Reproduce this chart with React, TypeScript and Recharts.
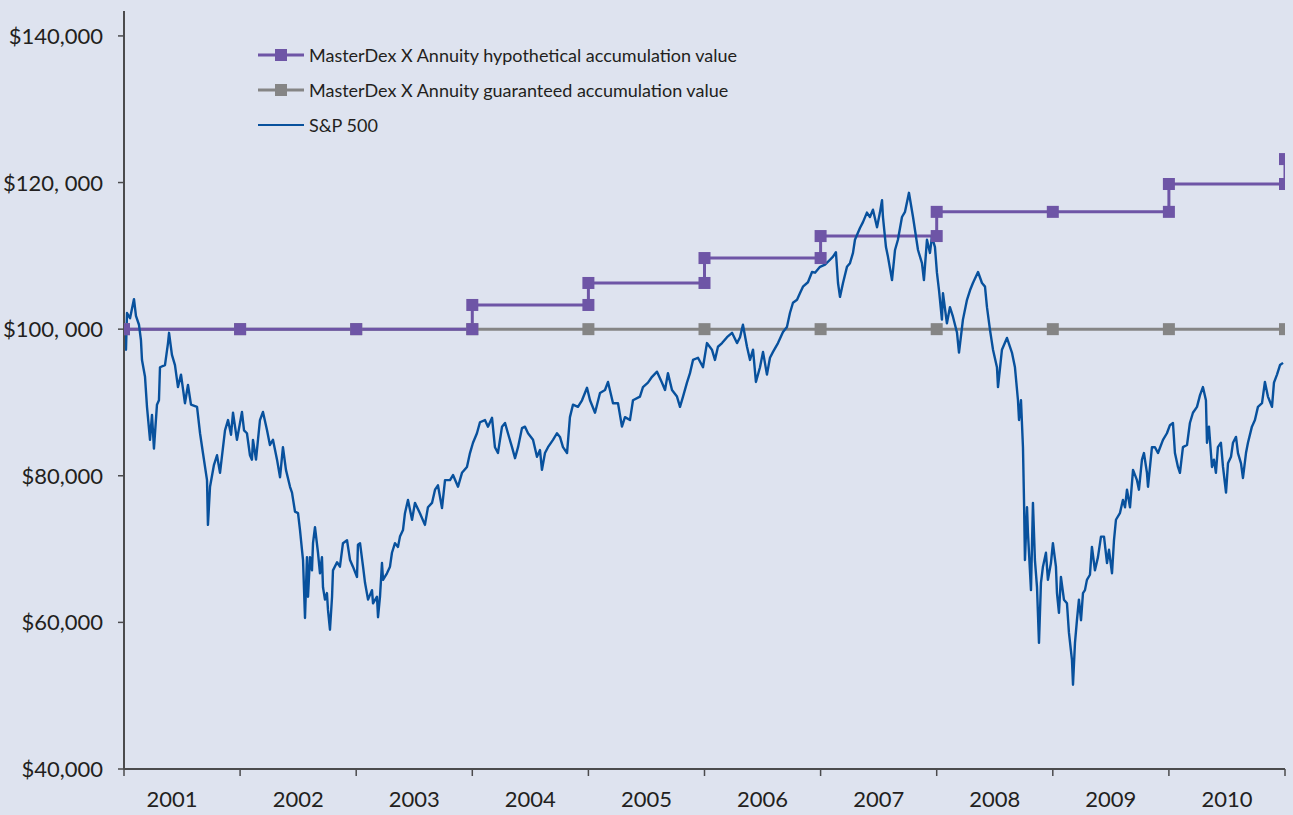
import React from "react";
import { LineChart, Line, XAxis, YAxis } from "recharts";

// year boundaries on the x axis, labels sit between them
const years = [2001, 2002, 2003, 2004, 2005, 2006, 2007, 2008, 2009, 2010, 2011];
const yearLabels = ["2001", "2002", "2003", "2004", "2005", "2006", "2007", "2008", "2009", "2010"];

const yTicks = [40000, 60000, 80000, 100000, 120000, 140000];
const yTickLabels = ["$40,000", "$60,000", "$80,000", "$100, 000", "$120, 000", "$140,000"];

const seriesNames = [
  "MasterDex X Annuity hypothetical accumulation value",
  "MasterDex X Annuity guaranteed accumulation value",
  "S&P 500",
];

// guaranteed value at each anniversary ($K)
const guaranteedValues = [100, 100, 100, 100, 100, 100, 100, 100, 100, 100, 100];

// hypothetical value, [year, $K] – two points where the value steps up
const hypotheticalSteps: [number, number][] = [
  [2001, 100], [2002, 100], [2003, 100], [2004, 100], [2004, 103.3],
  [2005, 103.3], [2005, 106.3], [2006, 106.3], [2006, 109.7],
  [2007, 109.7], [2007, 112.7], [2008, 112.7], [2008, 116.0],
  [2009, 116.0], [2010, 116.0], [2010, 119.8], [2011, 119.8], [2011, 123.2],
];

// S&P 500 growth of $100K, [year, $K]
const sp500Points: [number, number][] = [
  [2001.0, 100.0], [2001.017, 97.2], [2001.026, 102.2], [2001.052, 101.5], [2001.086, 104.1],
  [2001.103, 101.8], [2001.129, 100.6], [2001.146, 98.5], [2001.155, 95.8], [2001.181, 93.5],
  [2001.198, 89.4], [2001.224, 84.9], [2001.241, 88.3], [2001.258, 83.7], [2001.284, 89.7],
  [2001.301, 90.3], [2001.31, 94.8], [2001.353, 95.1], [2001.379, 98.1], [2001.388, 99.5],
  [2001.413, 96.5], [2001.439, 95.1], [2001.465, 92.1], [2001.491, 93.8], [2001.525, 89.9],
  [2001.551, 92.4], [2001.577, 89.7], [2001.629, 89.4], [2001.655, 85.8], [2001.68, 83.1],
  [2001.715, 79.4], [2001.723, 73.3], [2001.741, 78.5], [2001.775, 81.5], [2001.801, 82.8],
  [2001.827, 80.4], [2001.87, 86.2], [2001.896, 87.6], [2001.922, 85.6], [2001.939, 88.6],
  [2001.973, 84.9], [2002.016, 88.7], [2002.034, 86.2], [2002.059, 85.8], [2002.085, 82.8],
  [2002.102, 82.2], [2002.111, 84.9], [2002.137, 82.2], [2002.171, 87.6], [2002.197, 88.7],
  [2002.232, 86.2], [2002.257, 84.2], [2002.283, 84.9], [2002.318, 82.2], [2002.344, 79.8],
  [2002.369, 83.9], [2002.395, 80.8], [2002.43, 78.5], [2002.447, 77.7], [2002.473, 75.1],
  [2002.499, 74.9], [2002.516, 72.6], [2002.533, 69.9], [2002.542, 68.5], [2002.559, 60.6],
  [2002.576, 68.9], [2002.585, 63.5], [2002.602, 68.9], [2002.619, 67.1], [2002.628, 70.8],
  [2002.645, 73.0], [2002.671, 69.5], [2002.688, 66.7], [2002.705, 68.9], [2002.714, 64.8],
  [2002.731, 63.1], [2002.748, 64.0], [2002.757, 61.7], [2002.774, 59.0], [2002.792, 63.5],
  [2002.8, 67.1], [2002.835, 68.2], [2002.86, 67.6], [2002.886, 70.8], [2002.921, 71.2],
  [2002.947, 68.5], [2002.972, 67.6], [2003.007, 66.2], [2003.015, 70.6], [2003.033, 70.8],
  [2003.059, 67.6], [2003.076, 65.4], [2003.102, 63.1], [2003.136, 64.4], [2003.145, 62.6],
  [2003.179, 63.5], [2003.188, 60.7], [2003.205, 63.5], [2003.222, 68.1], [2003.231, 65.8],
  [2003.265, 66.7], [2003.291, 67.6], [2003.308, 69.5], [2003.334, 70.8], [2003.36, 70.3],
  [2003.377, 71.7], [2003.403, 72.6], [2003.42, 74.9], [2003.446, 76.7], [2003.481, 74.0],
  [2003.506, 76.3], [2003.549, 74.9], [2003.592, 73.3], [2003.618, 75.7], [2003.653, 76.3],
  [2003.679, 78.1], [2003.704, 78.7], [2003.739, 75.6], [2003.765, 79.4], [2003.808, 79.4],
  [2003.834, 80.1], [2003.877, 78.5], [2003.911, 80.4], [2003.954, 81.2], [2003.98, 83.1],
  [2004.006, 84.5], [2004.04, 85.8], [2004.066, 87.3], [2004.109, 87.6], [2004.135, 86.7],
  [2004.17, 87.9], [2004.195, 83.9], [2004.221, 83.1], [2004.256, 86.7], [2004.282, 87.2],
  [2004.307, 85.8], [2004.342, 83.9], [2004.368, 82.4], [2004.394, 83.9], [2004.428, 86.5],
  [2004.454, 86.7], [2004.48, 85.8], [2004.523, 84.9], [2004.557, 82.6], [2004.583, 83.5],
  [2004.6, 80.8], [2004.626, 83.1], [2004.652, 83.9], [2004.695, 84.9], [2004.729, 85.8],
  [2004.755, 85.3], [2004.781, 83.9], [2004.816, 83.1], [2004.841, 88.0], [2004.867, 89.7],
  [2004.91, 89.4], [2004.945, 90.3], [2004.988, 92.0], [2005.014, 90.3], [2005.057, 88.6],
  [2005.1, 91.3], [2005.143, 91.7], [2005.169, 92.8], [2005.212, 89.9], [2005.255, 89.9],
  [2005.289, 86.7], [2005.315, 88.0], [2005.358, 87.6], [2005.384, 90.3], [2005.444, 90.8],
  [2005.47, 92.1], [2005.513, 92.7], [2005.548, 93.5], [2005.591, 94.2], [2005.634, 92.7],
  [2005.66, 91.7], [2005.685, 94.0], [2005.72, 91.7], [2005.763, 90.8], [2005.789, 89.4],
  [2005.815, 90.8], [2005.849, 92.7], [2005.875, 94.0], [2005.901, 95.8], [2005.944, 96.1],
  [2005.987, 94.8], [2006.021, 98.1], [2006.064, 97.2], [2006.09, 95.8], [2006.116, 97.6],
  [2006.151, 98.1], [2006.194, 98.9], [2006.237, 99.5], [2006.28, 98.1], [2006.306, 98.9],
  [2006.331, 100.6], [2006.366, 97.6], [2006.392, 95.8], [2006.418, 97.2], [2006.443, 92.8],
  [2006.478, 94.8], [2006.504, 96.9], [2006.538, 93.8], [2006.564, 96.1], [2006.59, 96.9],
  [2006.633, 98.1], [2006.676, 99.6], [2006.71, 100.3], [2006.736, 102.2], [2006.762, 103.6],
  [2006.797, 104.0], [2006.822, 104.9], [2006.848, 105.8], [2006.891, 106.4], [2006.926, 107.8],
  [2006.952, 107.7], [2006.995, 108.5], [2007.038, 108.8], [2007.064, 109.2], [2007.107, 109.9],
  [2007.132, 110.5], [2007.15, 106.3], [2007.167, 104.4], [2007.193, 106.3], [2007.227, 108.5],
  [2007.253, 109.0], [2007.279, 110.4], [2007.296, 112.2], [2007.339, 113.8], [2007.365, 114.6],
  [2007.399, 115.9], [2007.425, 115.3], [2007.451, 116.3], [2007.486, 113.9], [2007.511, 115.9],
  [2007.529, 117.6], [2007.537, 115.3], [2007.563, 111.2], [2007.58, 109.9], [2007.615, 106.7],
  [2007.641, 110.8], [2007.666, 112.2], [2007.701, 115.3], [2007.727, 116.0], [2007.761, 118.6],
  [2007.796, 115.3], [2007.839, 110.8], [2007.873, 109.0], [2007.89, 106.7], [2007.916, 112.2],
  [2007.942, 110.4], [2007.959, 112.6], [2007.985, 111.2], [2008.002, 107.7], [2008.02, 105.3],
  [2008.045, 101.3], [2008.054, 104.9], [2008.088, 100.8], [2008.114, 103.0], [2008.14, 101.7],
  [2008.175, 99.5], [2008.192, 96.8], [2008.226, 101.3], [2008.261, 104.0], [2008.287, 105.3],
  [2008.312, 106.3], [2008.356, 107.8], [2008.39, 106.3], [2008.416, 105.8], [2008.433, 103.0],
  [2008.459, 99.9], [2008.485, 97.2], [2008.519, 94.8], [2008.528, 92.1], [2008.562, 97.2],
  [2008.605, 98.8], [2008.648, 96.8], [2008.674, 94.8], [2008.7, 90.3], [2008.709, 87.6],
  [2008.726, 90.3], [2008.743, 83.9], [2008.752, 76.7], [2008.76, 68.5], [2008.778, 75.7],
  [2008.786, 72.2], [2008.812, 64.4], [2008.829, 76.3], [2008.846, 68.5], [2008.864, 64.8],
  [2008.881, 57.2], [2008.898, 65.4], [2008.915, 67.6], [2008.941, 69.5], [2008.958, 65.8],
  [2008.984, 68.1], [2009.001, 70.8], [2009.027, 67.6], [2009.036, 64.0], [2009.053, 61.3],
  [2009.07, 66.2], [2009.096, 63.1], [2009.122, 62.6], [2009.139, 58.6], [2009.165, 54.9],
  [2009.174, 51.5], [2009.191, 57.2], [2009.208, 60.3], [2009.225, 63.1], [2009.243, 60.3],
  [2009.26, 64.0], [2009.277, 64.4], [2009.294, 65.8], [2009.32, 66.5], [2009.337, 70.3],
  [2009.363, 67.1], [2009.389, 68.9], [2009.415, 71.7], [2009.441, 71.7], [2009.467, 68.1],
  [2009.484, 69.9], [2009.51, 66.7], [2009.527, 71.2], [2009.544, 74.0], [2009.578, 74.9],
  [2009.604, 76.7], [2009.622, 75.7], [2009.639, 78.1], [2009.665, 75.7], [2009.691, 80.8],
  [2009.725, 79.4], [2009.742, 78.1], [2009.768, 82.2], [2009.785, 83.1], [2009.811, 80.4],
  [2009.82, 78.5], [2009.854, 83.9], [2009.88, 83.9], [2009.906, 83.1], [2009.949, 84.9],
  [2009.983, 85.8], [2010.009, 86.9], [2010.035, 87.2], [2010.052, 83.1], [2010.078, 81.2],
  [2010.095, 80.4], [2010.121, 83.9], [2010.156, 84.2], [2010.181, 87.2], [2010.207, 88.6],
  [2010.242, 89.4], [2010.268, 91.0], [2010.293, 92.1], [2010.319, 90.3], [2010.328, 84.5],
  [2010.345, 86.7], [2010.371, 81.2], [2010.388, 82.2], [2010.405, 80.4], [2010.422, 83.9],
  [2010.448, 84.5], [2010.466, 81.2], [2010.492, 77.7], [2010.509, 81.7], [2010.535, 82.6],
  [2010.552, 84.5], [2010.578, 85.3], [2010.595, 83.1], [2010.621, 81.7], [2010.638, 79.7],
  [2010.664, 83.1], [2010.681, 84.5], [2010.715, 86.7], [2010.741, 87.6], [2010.767, 89.4],
  [2010.802, 89.9], [2010.827, 92.8], [2010.853, 90.8], [2010.888, 89.4], [2010.905, 92.7],
  [2010.931, 93.8], [2010.957, 95.1], [2010.983, 95.4],
];

const COLORS = {
  bg: "#dee3ef",
  hypothetical: "#6e55a6",
  guaranteed: "#858585",
  sp500: "#08519d",
  axis: "#4b4b4d",
  text: "#231f20",
};
const FONT = "Lato, 'Open Sans', sans-serif";

const W = 1293;
const H = 815;
const PLOT_LEFT = 124;
const PLOT_RIGHT = 1285;
const PLOT_TOP = 11;
const PLOT_BOTTOM = 769;
const YEAR_PX = (PLOT_RIGHT - PLOT_LEFT) / (years.length - 1);

const guaranteedData = years.map((year, i) => ({ year, value: guaranteedValues[i] * 1000 }));
const hypotheticalData = hypotheticalSteps.map(([year, v]) => ({ year, value: v * 1000 }));
const sp500Data = sp500Points.map(([year, v]) => ({ year, value: v * 1000 }));

const squareDot = (color: string) => (props: any) => {
  const { cx, cy, index } = props;
  return <rect key={`sq-${index}`} x={cx - 6} y={cy - 6} width={12} height={12} fill={color} />;
};

const XTick = (props: any) => {
  const { x, y, payload } = props;
  const i = years.indexOf(payload.value);
  if (i < 0 || i >= yearLabels.length) return <g />;
  // the first label sits a bit left of the middle of its year
  const shift = i === 0 ? -10 : 0;
  return (
    <text x={x + YEAR_PX / 2 + shift} y={y} dy={29} textAnchor="middle" fill={COLORS.text}
      fontFamily={FONT} fontSize={22}>
      {yearLabels[i]}
    </text>
  );
};

const YTick = (props: any) => {
  const { x, y, payload } = props;
  const i = yTicks.indexOf(payload.value);
  return (
    <text x={x} y={y} dy={8} textAnchor="end" fill={COLORS.text} fontFamily={FONT} fontSize={22}>
      {yTickLabels[i]}
    </text>
  );
};

const legendColors = [COLORS.hypothetical, COLORS.guaranteed, COLORS.sp500];

function ChartLegend() {
  return (
    <div style={{ position: "absolute", left: 258, top: 37, fontFamily: FONT, fontSize: 18, color: COLORS.text }}>
      {seriesNames.map((name, i) => (
        <div key={name} style={{ display: "flex", alignItems: "center", height: 35 }}>
          <svg width={46} height={14} style={{ display: "block" }}>
            <line x1={0} x2={46} y1={7} y2={7} stroke={legendColors[i]} strokeWidth={i === 2 ? 2 : 3} />
            {i < 2 && <rect x={17} y={1} width={12} height={12} fill={legendColors[i]} />}
          </svg>
          <span style={{ marginLeft: 5, whiteSpace: "nowrap" }}>{name}</span>
        </div>
      ))}
    </div>
  );
}

export default function App() {
  return (
    <div style={{ position: "absolute", left: 0, top: 0, width: W, height: H, background: COLORS.bg }}>
      <LineChart width={W} height={H} margin={{ top: PLOT_TOP, right: W - PLOT_RIGHT, bottom: 0, left: 0 }}>
        <XAxis
          dataKey="year"
          type="number"
          domain={[2001, 2011]}
          ticks={years}
          allowDataOverflow
          stroke={COLORS.axis}
          strokeWidth={2}
          tickSize={7}
          tickLine={{ stroke: COLORS.axis, strokeWidth: 1.5 }}
          tick={<XTick />}
          height={H - PLOT_BOTTOM}
        />
        <YAxis
          type="number"
          domain={[40000, 143400]}
          ticks={yTicks}
          allowDataOverflow
          width={PLOT_LEFT}
          stroke={COLORS.axis}
          strokeWidth={2}
          tickSize={6}
          tickMargin={15}
          tickLine={{ stroke: COLORS.axis, strokeWidth: 1.5 }}
          tick={<YTick />}
        />
        <Line
          data={guaranteedData}
          dataKey="value"
          name={seriesNames[1]}
          type="linear"
          stroke={COLORS.guaranteed}
          strokeWidth={3}
          dot={squareDot(COLORS.guaranteed)}
          activeDot={false}
          isAnimationActive={false}
        />
        <Line
          data={hypotheticalData}
          dataKey="value"
          name={seriesNames[0]}
          type="linear"
          stroke={COLORS.hypothetical}
          strokeWidth={3}
          dot={squareDot(COLORS.hypothetical)}
          activeDot={false}
          isAnimationActive={false}
        />
        <Line
          data={sp500Data}
          dataKey="value"
          name={seriesNames[2]}
          type="linear"
          stroke={COLORS.sp500}
          strokeWidth={2.4}
          strokeLinejoin="round"
          dot={false}
          activeDot={false}
          isAnimationActive={false}
        />
      </LineChart>
      <ChartLegend />
    </div>
  );
}
